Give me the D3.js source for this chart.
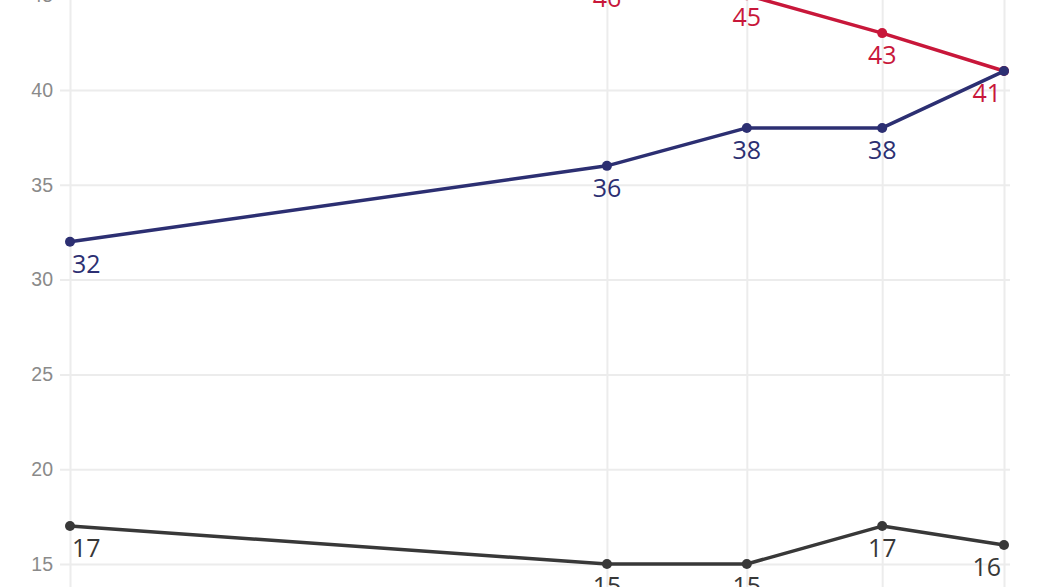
<!DOCTYPE html>
<html>
<head>
<meta charset="utf-8">
<script src="https://cdn.jsdelivr.net/npm/d3@7"></script>
<style>
  html, body { margin: 0; padding: 0; background: #fff; overflow: hidden; }
  svg { display: block; font-family: "Open Sans", sans-serif; }
</style>
</head>
<body>
<svg id="chart" width="1044" height="587"></svg>
<script>
const dates = ["2023-01-01", "2023-04-30", "2023-05-31", "2023-06-30", "2023-07-27"];
const redValues = [null, 46, 45, 43, 41];
const blueValues = [32, 36, 38, 38, 41];
const grayValues = [17, 15, 15, 17, 16];
const yTicks = [15, 20, 25, 30, 35, 40, 45];

const series = [
  { name: "red", color: "#c8173a", values: redValues },
  { name: "blue", color: "#2c2f72", values: blueValues },
  { name: "gray", color: "#383838", values: grayValues }
];

const parse = d3.timeParse("%Y-%m-%d");
const xDates = dates.map(parse);

const svg = d3.select("#chart");
const x = d3.scaleTime().domain(d3.extent(xDates)).range([70, 1004]);
const y = d3.scaleLinear().domain([15, 40]).range([564, 90]);

// horizontal grid
const yAxis = d3.axisLeft(y).tickValues(yTicks).tickSize(-(1010 - 60)).tickPadding(8).tickFormat(d3.format("d"));
const gy = svg.append("g").attr("transform", "translate(60,0)").call(yAxis);
gy.select(".domain").remove();
gy.selectAll(".tick line").attr("stroke", "#ececec").attr("stroke-width", 2);
gy.selectAll(".tick text").attr("fill", "#8a8a8a").attr("font-size", 19.5).attr("x", -7);

// vertical grid at data dates
const xAxis = d3.axisBottom(x).tickValues(xDates).tickSize(-700).tickFormat("");
const gx = svg.append("g").attr("transform", "translate(0,620)").call(xAxis);
gx.select(".domain").remove();
gx.selectAll(".tick line").attr("stroke", "#ececec").attr("stroke-width", 2);

const line = d3.line()
  .defined(d => d.v != null)
  .x(d => x(d.date))
  .y(d => y(d.v));

series.forEach(s => {
  const pts = s.values.map((v, i) => ({ date: xDates[i], v, i }));
  svg.append("path")
    .datum(pts)
    .attr("fill", "none")
    .attr("stroke", s.color)
    .attr("stroke-width", 3.5)
    .attr("stroke-linejoin", "round")
    .attr("d", line);
  svg.append("g").selectAll("circle")
    .data(pts.filter(p => p.v != null))
    .join("circle")
    .attr("cx", p => x(p.date))
    .attr("cy", p => y(p.v))
    .attr("r", 5)
    .attr("fill", s.color);
});

// value labels; one label per shared point (first series wins)
const used = new Set();
series.forEach(s => {
  s.values.forEach((v, i) => {
    if (v == null) return;
    const key = i + ":" + v;
    if (used.has(key)) return;
    used.add(key);
    const n = s.values.length;
    const anchor = i === 0 ? "start" : (i === n - 1 ? "end" : "middle");
    const dx = i === 0 ? 2 : (i === n - 1 ? -3 : 0);
    svg.append("text")
      .attr("x", x(xDates[i]) + dx)
      .attr("y", y(v) + 31)
      .attr("text-anchor", anchor)
      .attr("font-size", 25)
      .attr("font-weight", 500)
      .attr("fill", s.color)
      .text(v);
  });
});
</script>
</body>
</html>
